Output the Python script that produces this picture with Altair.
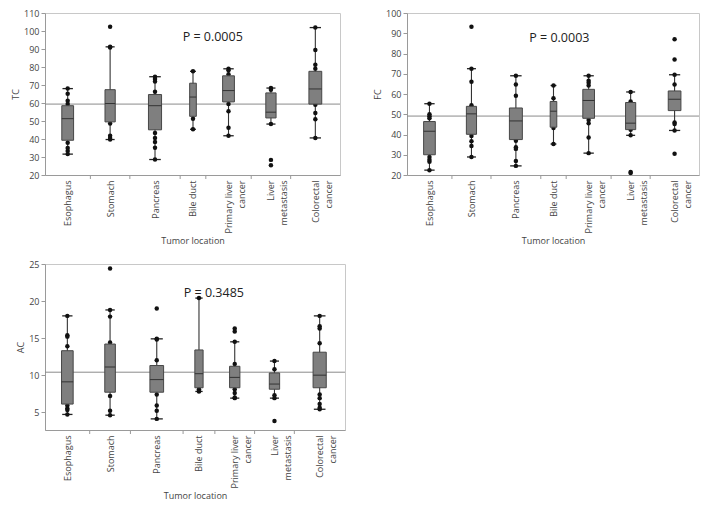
import altair as alt
import pandas as pd

# ---------------- data ----------------
categories = ["Esophagus", "Stomach", "Pancreas", "Bile duct",
              "Primary liver|cancer", "Liver|metastasis", "Colorectal|cancer"]

# relative width of each group's slot along the x axis (JMP style)
slot_tc_fc = [46, 40, 51, 26, 46, 40, 50]
slot_ac = [45, 41, 53, 32, 40, 40, 51]

# ---- TC ----
tc_q1 = [39.3, 49.5, 45.1, 52.6, 60.6, 51.7, 59.4]
tc_med = [51.3, 59.7, 58.5, 63.3, 66.9, 54.9, 67.8]
tc_q3 = [58.5, 67.4, 64.7, 71.0, 75.1, 65.6, 77.6]
tc_lo = [31.6, 39.7, 28.6, 45.4, 41.8, 48.3, 40.6]
tc_hi = [68.0, 91.2, 74.6, 77.6, 79.0, 68.3, 101.9]
tc_points = [
    [68.0, 65.1, 61.2, 59.4, 37.9, 35.0, 33.4, 31.6],
    [102.3, 91.2, 90.8, 48.6, 41.8, 40.6, 39.7],
    [74.6, 73.3, 72.0, 66.2, 43.3, 40.6, 38.3, 35.2, 28.6],
    [77.6, 51.3, 45.4],
    [79.0, 78.2, 76.0, 59.4, 55.4, 46.3, 41.8],
    [68.3, 67.4, 48.3, 28.4, 25.4],
    [101.9, 89.4, 81.2, 79.0, 59.0, 54.4, 51.0, 40.6],
]
tc_mean = 59.4

# ---- FC ----
fc_q1 = [30.0, 40.1, 37.5, 43.6, 48.0, 42.4, 51.8]
fc_med = [41.6, 50.2, 46.7, 51.5, 56.8, 45.6, 57.4]
fc_q3 = [46.4, 53.9, 53.1, 56.3, 62.3, 55.8, 61.5]
fc_lo = [22.4, 28.9, 24.5, 35.3, 30.8, 39.6, 42.0]
fc_hi = [55.2, 72.5, 69.0, 64.2, 69.0, 61.0, 69.5]
fc_points = [
    [55.2, 50.0, 49.0, 48.0, 28.9, 27.5, 26.5, 22.4],
    [93.2, 72.5, 66.1, 54.4, 39.3, 36.7, 34.3, 28.9],
    [69.0, 64.7, 59.1, 36.9, 33.7, 32.9, 26.9, 24.5],
    [64.2, 57.9, 43.2, 35.3],
    [69.0, 66.6, 65.5, 64.2, 47.2, 45.5, 38.5, 30.8],
    [61.0, 56.3, 42.3, 39.6, 21.5, 21.0],
    [87.0, 77.0, 69.5, 64.7, 45.9, 45.2, 42.0, 30.5],
]
fc_mean = 49.1

# ---- AC ----
ac_q1 = [6.1, 7.7, 7.7, 8.3, 8.3, 8.1, 8.3]
ac_med = [9.1, 11.1, 9.4, 10.2, 9.7, 8.8, 10.0]
ac_q3 = [13.3, 14.2, 11.3, 13.4, 11.2, 10.3, 13.1]
ac_lo = [4.7, 4.6, 4.1, 7.8, 6.9, 6.9, 5.4]
ac_hi = [18.0, 18.8, 14.9, 20.4, 14.5, 11.9, 18.0]
ac_points = [
    [18.0, 15.4, 15.2, 13.9, 5.9, 5.5, 5.3, 4.7],
    [24.4, 18.8, 17.9, 14.4, 7.2, 5.2, 4.6],
    [19.0, 14.9, 14.8, 12.0, 7.4, 5.9, 5.2, 4.1],
    [20.4, 8.1, 7.9, 7.8],
    [16.3, 15.9, 14.5, 11.5, 8.1, 7.6, 7.0, 6.9],
    [11.9, 10.8, 7.3, 6.9, 3.8],
    [18.0, 16.6, 16.3, 14.3, 7.4, 6.9, 6.1, 5.6, 5.4],
]
ac_mean = 10.4

p_labels = ["P = 0.0005", "P = 0.0003", "P = 0.3485"]

FONT = "Open Sans"
BOX_FRAC = 0.26
CAP_FRAC = 0.23


def js_label(s):
    parts = s.split("|")
    if len(parts) == 1:
        return "'%s'" % s
    return "[" + ",".join("'%s'" % p for p in parts) + "]"


def build_panel(ytitle, slots, q1, med, q3, lo, hi, points, mean,
                ydomain, yticks, ptext, px, py, width, height):
    edges = [0]
    for w in slots:
        edges.append(edges[-1] + w)
    total = edges[-1]
    centers = [(edges[i] + edges[i + 1]) / 2 for i in range(len(slots))]

    groups = pd.DataFrame({
        "center": centers,
        "box_l": [c - w * BOX_FRAC / 2 for c, w in zip(centers, slots)],
        "box_r": [c + w * BOX_FRAC / 2 for c, w in zip(centers, slots)],
        "cap_l": [c - w * CAP_FRAC / 2 for c, w in zip(centers, slots)],
        "cap_r": [c + w * CAP_FRAC / 2 for c, w in zip(centers, slots)],
        "q1": q1, "med": med, "q3": q3, "lo": lo, "hi": hi,
    })
    caps = pd.concat([
        groups[["cap_l", "cap_r"]].assign(v=lo),
        groups[["cap_l", "cap_r"]].assign(v=hi),
    ])
    pts = pd.DataFrame([{"center": centers[i], "value": v}
                        for i, vals in enumerate(points) for v in vals])
    bounds = pd.DataFrame({"b": edges[1:-1]})
    mean_df = pd.DataFrame({"m": [mean]})
    ptxt = pd.DataFrame({"px": [px], "py": [py], "t": [ptext]})

    label_expr = "".join("datum.value == %r ? %s : " % (c, js_label(l))
                         for c, l in zip(centers, categories)) + "''"

    xscale = alt.Scale(domain=[0, total], nice=False, zero=False)
    xaxis = alt.Axis(values=centers, labelExpr=label_expr, ticks=False,
                     labelAngle=270, labelLineHeight=13, labelPadding=5,
                     labelOverlap=False, title="Tumor location", titlePadding=4,
                     grid=False)
    yscale = alt.Scale(domain=ydomain, nice=False, zero=False)
    yaxis = alt.Axis(values=yticks, title=ytitle, tickSize=4, labelPadding=2,
                     titlePadding=3, grid=False)

    def X(f):
        return alt.X(f"{f}:Q", scale=xscale, axis=xaxis)

    def Y(f):
        return alt.Y(f"{f}:Q", scale=yscale, axis=yaxis)

    mean_rule = alt.Chart(mean_df).mark_rule(color="#8a8a8a", strokeWidth=1).encode(y=Y("m"))
    whisk = alt.Chart(groups).mark_rule(color="#333", strokeWidth=1.1).encode(
        x=X("center"), y=Y("lo"), y2="hi")
    cap = alt.Chart(caps).mark_rule(color="#222", strokeWidth=1.3).encode(
        x=X("cap_l"), x2="cap_r", y=Y("v"))
    dots = alt.Chart(pts).mark_circle(size=20, color="#111", opacity=1).encode(
        x=X("center"), y=Y("value"))
    box = alt.Chart(groups).mark_rect(fill="#7f7f7f", stroke="#474747", strokeWidth=1).encode(
        x=X("box_l"), x2="box_r", y=Y("q1"), y2="q3")
    median = alt.Chart(groups).mark_rule(color="#333", strokeWidth=1).encode(
        x=X("box_l"), x2="box_r", y=Y("med"))
    bticks = alt.Chart(bounds).mark_rule(color="#9a9a9a").encode(
        x=X("b"), y=alt.value(height), y2=alt.value(height + 4))
    ptext_layer = alt.Chart(ptxt).mark_text(font=FONT, fontSize=12.5, color="#222").encode(
        x=X("px"), y=Y("py"), text="t:N")

    return alt.layer(mean_rule, whisk, cap, dots, box, median, bticks, ptext_layer).properties(
        width=width, height=height)


tc = build_panel("TC", slot_tc_fc, tc_q1, tc_med, tc_q3, tc_lo, tc_hi, tc_points, tc_mean,
                 [20, 110], list(range(20, 111, 10)), p_labels[0], 170, 96.4, 295, 162)
fc = build_panel("FC", slot_tc_fc, fc_q1, fc_med, fc_q3, fc_lo, fc_hi, fc_points, fc_mean,
                 [20, 100], list(range(20, 101, 10)), p_labels[1], 156, 87.6, 292, 162)
ac = build_panel("AC", slot_ac, ac_q1, ac_med, ac_q3, ac_lo, ac_hi, ac_points, ac_mean,
                 [2.6, 25], [5, 10, 15, 20, 25], p_labels[2], 170, 21.1, 300, 166)

chart = alt.vconcat(
    alt.hconcat(tc, fc, spacing=32),
    ac,
    spacing=12,
).properties(
    padding={"left": 3, "top": 0, "right": 0, "bottom": 0}
).configure_view(
    stroke="#c8c8c8"
).configure_axis(
    labelFont=FONT, labelFontSize=9, labelColor="#444",
    titleFont=FONT, titleFontSize=9, titleFontWeight="normal", titleColor="#444",
    domainColor="#9a9a9a", tickColor="#9a9a9a",
)

chart.save("out.html", embed_options={"renderer": "svg", "actions": False})
